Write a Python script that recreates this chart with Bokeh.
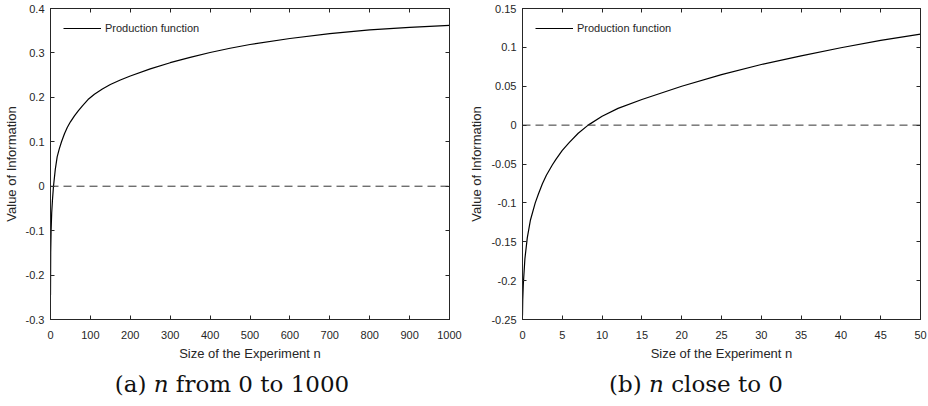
from bokeh.plotting import figure
from bokeh.models import Range1d, FixedTicker, LinearAxis, Span, Div
from bokeh.layouts import row, column
from bokeh.embed import file_html
from bokeh.resources import INLINE

# ---------------- data ----------------
n_a = [0, 0.5, 1.5, 3, 5, 7.5, 12, 16.7, 22, 27.6, 35, 42, 50, 60, 70, 80, 94,
       110, 130, 150, 175, 200, 250, 300, 350, 400, 450, 500, 600, 700, 800, 900, 1000]
v_a = [-0.245, -0.15, -0.10, -0.06, -0.03, 0.0, 0.038, 0.066, 0.084, 0.10, 0.118,
       0.132, 0.145, 0.1585, 0.170, 0.181, 0.195, 0.207, 0.219, 0.229, 0.239, 0.248,
       0.264, 0.278, 0.290, 0.301, 0.3105, 0.319, 0.3325, 0.3435, 0.352, 0.3575, 0.362]

n_b = [0, 0.03, 0.1, 0.3, 0.6, 1.0, 1.6, 2.0, 2.5, 3.0, 3.76, 4.2, 5.0, 5.86, 7.0, 8.25,
       10, 12, 15, 20, 25, 30, 35, 40, 45, 50]
v_b = [-0.245, -0.225, -0.205, -0.172, -0.145, -0.122, -0.100, -0.0885, -0.0755,
       -0.0645, -0.051, -0.044, -0.0325, -0.0225, -0.0105, 0.0, 0.0115, 0.0215, 0.033,
       0.050, 0.065, 0.078, 0.089, 0.0995, 0.109, 0.117]

x_ticks_a = [0, 100, 200, 300, 400, 500, 600, 700, 800, 900, 1000]
y_ticks_a = [-0.3, -0.2, -0.1, 0, 0.1, 0.2, 0.3, 0.4]
y_labels_a = ["-0.3", "-0.2", "-0.1", "0", "0.1", "0.2", "0.3", "0.4"]

x_ticks_b = [0, 5, 10, 15, 20, 25, 30, 35, 40, 45, 50]
y_ticks_b = [-0.25, -0.2, -0.15, -0.1, -0.05, 0, 0.05, 0.1, 0.15]
y_labels_b = ["-0.25", "-0.2", "-0.15", "-0.1", "-0.05", "0", "0.05", "0.1", "0.15"]

series_label = "Production function"
x_title = "Size of the Experiment n"
y_title = "Value of Information"
caption_a = "(a) <i>n</i> from 0 to 1000"
caption_b = "(b) <i>n</i> close to 0"

AX = "#262626"
FONT = "Liberation Sans"


def style_axis(ax, ticks, labels=None, show_labels=True):
    ax.ticker = FixedTicker(ticks=ticks)
    ax.minor_tick_line_color = None
    ax.major_tick_in = 4
    ax.major_tick_out = 0
    ax.major_tick_line_color = AX
    ax.axis_line_color = AX
    ax.major_label_text_font = FONT
    ax.major_label_text_font_size = "11px"
    ax.major_label_text_color = AX
    ax.axis_label_text_font = FONT
    ax.axis_label_text_font_size = "13px"
    ax.axis_label_text_font_style = "normal"
    ax.axis_label_text_color = AX
    if labels is not None:
        ax.major_label_overrides = {t: l for t, l in zip(ticks, labels)}
    if not show_labels:
        ax.major_label_overrides = {t: "" for t in ticks}
        ax.major_label_standoff = 0


def make_plot(xs, ys, xr, yr, xt, yt, yl, left_border, right_border):
    p = figure(width=464, height=363, output_backend="svg", toolbar_location=None,
               x_range=Range1d(*xr), y_range=Range1d(*yr),
               min_border_left=left_border, min_border_right=right_border,
               min_border_top=8, min_border_bottom=40)
    p.grid.visible = False
    p.outline_line_color = AX
    p.background_fill_color = "white"
    p.border_fill_color = "white"

    style_axis(p.xaxis[0], xt, [str(t) for t in xt])
    style_axis(p.yaxis[0], yt, yl)
    p.xaxis[0].axis_label = x_title
    p.yaxis[0].axis_label = y_title
    p.xaxis[0].major_label_standoff = 11
    p.xaxis[0].axis_label_standoff = 4
    p.yaxis[0].major_label_standoff = 6
    p.yaxis[0].axis_label_standoff = 4

    top = LinearAxis()
    style_axis(top, xt, show_labels=False)
    p.add_layout(top, "above")
    right = LinearAxis()
    style_axis(right, yt, show_labels=False)
    p.add_layout(right, "right")

    p.add_layout(Span(location=0, dimension="width", line_color="#333333",
                      line_width=1, line_dash="8 5"))
    p.line(xs, ys, line_color="black", line_width=1.2, legend_label=series_label)

    lg = p.legend[0]
    lg.location = "top_left"
    lg.margin = 3
    lg.padding = 10
    lg.glyph_width = 38
    lg.glyph_height = 12
    lg.label_height = 13
    lg.label_standoff = 4
    lg.label_text_font = FONT
    lg.label_text_font_size = "11px"
    lg.label_text_color = AX
    lg.border_line_alpha = 0
    lg.background_fill_alpha = 0
    return p


p1 = make_plot(n_a, v_a, (0, 1000), (-0.3, 0.4), x_ticks_a, y_ticks_a, y_labels_a, 50, 15)
p2 = make_plot(n_b, v_b, (0, 50), (-0.25, 0.15), x_ticks_b, y_ticks_b, y_labels_b, 58, 8)


def caption(txt):
    html = ('<div style="width:464px;text-align:center;font-family:\'DejaVu Serif\';'
            'font-size:23px;line-height:30px;padding-top:6px;color:#111;">' + txt + '</div>')
    return Div(text=html, width=464, height=40, margin=0)


layout = column(row(p1, p2, margin=0), row(caption(caption_a), caption(caption_b), margin=0),
                margin=0)

open("out.html", "w").write(file_html(layout, INLINE))
